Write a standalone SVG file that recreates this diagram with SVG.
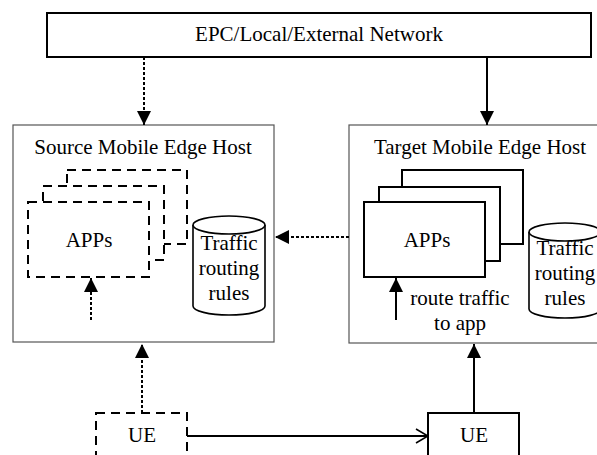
<svg xmlns="http://www.w3.org/2000/svg" width="597" height="455" viewBox="0 0 597 455">
  <defs>
    <marker id="tri" viewBox="0 0 14 14" refX="14" refY="7" markerWidth="14" markerHeight="14" markerUnits="userSpaceOnUse" orient="auto">
      <path d="M0,0 L14,7 L0,14 Z" fill="#000"/>
    </marker>
    <marker id="vee" viewBox="0 0 14 16" refX="13" refY="8" markerWidth="14" markerHeight="16" markerUnits="userSpaceOnUse" orient="auto">
      <path d="M1,1 L13,8 L1,15" fill="none" stroke="#000" stroke-width="1.6"/>
    </marker>
  </defs>
  <style>
    text { font-family: "Liberation Serif", "Times New Roman", serif; font-size: 21px; fill: #000; }
    .mid { text-anchor: middle; }
    .host { fill: #fff; stroke: #555; stroke-width: 1.2; }
    .box { fill: #fff; stroke: #000; stroke-width: 2; }
    .dash { fill: #fff; stroke: #000; stroke-width: 2; stroke-dasharray: 9 6; }
    .cyl { fill: #fff; stroke: #000; stroke-width: 1.6; }
    .solid { fill: none; stroke: #000; stroke-width: 2; }
    .dot { fill: none; stroke: #000; stroke-width: 2; stroke-dasharray: 3 2; }
  </style>
  <rect width="597" height="455" fill="#fff"/>

  <!-- core network -->
  <g id="network">
    <rect class="box" x="47" y="13" width="544" height="44"/>
    <text class="mid" x="319" y="41">EPC/Local/External Network</text>
  </g>

  <!-- source edge host -->
  <g id="source-host">
    <rect class="host" x="13" y="125" width="261" height="217"/>
    <text class="mid" x="143" y="154">Source Mobile Edge Host</text>
  </g>
  <g id="source-apps">
    <rect class="dash" x="67" y="170" width="120" height="74"/>
    <rect class="dash" x="43" y="186" width="121" height="74"/>
    <rect class="dash" x="28" y="202" width="121" height="75"/>
    <text class="mid" x="89" y="247">APPs</text>
  </g>
  <g id="source-rules">
    <path class="cyl" d="M193,225 V306 A36,9 0 0 0 265,306 V225"/>
    <ellipse class="cyl" cx="229" cy="225" rx="36" ry="9"/>
    <text class="mid" x="229" y="250">Traffic</text>
    <text class="mid" x="229" y="275">routing</text>
    <text class="mid" x="229" y="300">rules</text>
  </g>

  <!-- target edge host -->
  <g id="target-host">
    <rect class="host" x="349" y="125" width="252" height="218"/>
    <text class="mid" x="480" y="154">Target Mobile Edge Host</text>
  </g>
  <g id="target-apps">
    <rect class="box" x="402" y="170" width="121" height="74"/>
    <rect class="box" x="379" y="187" width="121" height="74"/>
    <rect class="box" x="364" y="202" width="121" height="75"/>
    <text class="mid" x="427" y="247">APPs</text>
  </g>
  <g id="target-rules">
    <path class="cyl" d="M529,232 V309 A36,9 0 0 0 601,309 V232"/>
    <ellipse class="cyl" cx="565" cy="232" rx="36" ry="9"/>
    <text class="mid" x="565" y="255">Traffic</text>
    <text class="mid" x="565" y="280">routing</text>
    <text class="mid" x="565" y="305">rules</text>
  </g>
  <g id="route-label">
    <text class="mid" x="460" y="305">route traffic</text>
    <text class="mid" x="460" y="330">to app</text>
  </g>

  <!-- user equipment -->
  <g id="ue-source">
    <rect class="dash" x="96" y="413" width="91" height="60"/>
    <text class="mid" x="142" y="442">UE</text>
  </g>
  <g id="ue-target">
    <rect class="box" x="428" y="413" width="91" height="60"/>
    <text class="mid" x="474" y="442">UE</text>
  </g>

  <!-- connectors -->
  <g id="connectors">
    <line class="dot" x1="144" y1="57" x2="144" y2="125" marker-end="url(#tri)"/>
    <line class="solid" x1="487" y1="57" x2="487" y2="125" marker-end="url(#tri)"/>
    <line class="dot" x1="349" y1="237" x2="275" y2="237" marker-end="url(#tri)"/>
    <line class="dot" x1="91" y1="320" x2="91" y2="278" marker-end="url(#tri)"/>
    <line class="solid" x1="396" y1="320" x2="396" y2="278" marker-end="url(#tri)"/>
    <line class="dot" x1="142" y1="413" x2="142" y2="344" marker-end="url(#tri)"/>
    <line class="solid" x1="474" y1="413" x2="474" y2="344" marker-end="url(#tri)"/>
    <line class="solid" x1="187" y1="436" x2="428" y2="436" marker-end="url(#vee)"/>
  </g>
</svg>
